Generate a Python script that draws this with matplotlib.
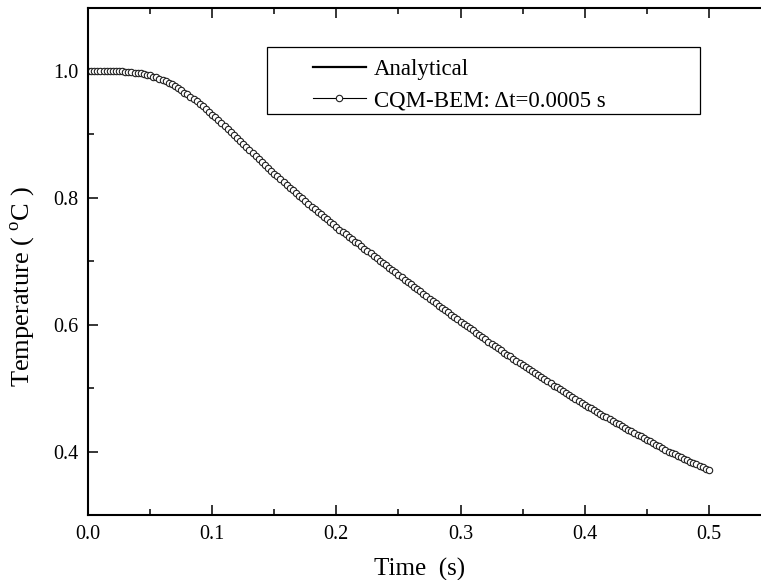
import numpy as np
import matplotlib
matplotlib.use("Agg")
import matplotlib.pyplot as plt
from matplotlib.patches import Rectangle
from matplotlib.ticker import MultipleLocator

plt.rcParams["font.family"] = ["Liberation Serif", "DejaVu Serif"]
plt.rcParams["mathtext.fontset"] = "custom"
plt.rcParams["mathtext.rm"] = "Liberation Serif"

# Analytical solution, read every 0.01 s
t_exact = np.linspace(0.0, 0.5, 51)
T_exact = [1.000, 1.000, 1.000, 0.999, 0.997, 0.993, 0.986, 0.976, 0.963, 0.948,
           0.931, 0.913, 0.894, 0.875, 0.856, 0.838, 0.820, 0.803, 0.786, 0.770,
           0.754, 0.739, 0.724, 0.709, 0.694, 0.679, 0.664, 0.649, 0.634, 0.620,
           0.605, 0.591, 0.577, 0.563, 0.550, 0.537, 0.524, 0.511, 0.498, 0.486,
           0.474, 0.462, 0.451, 0.440, 0.429, 0.419, 0.408, 0.398, 0.389, 0.380,
           0.371]

# CQM-BEM result, read every 0.0025 s
t_cqm = np.linspace(0.0, 0.5, 201)
T_cqm = [1.000, 1.000, 1.000, 1.000, 1.000, 1.000, 1.000, 1.000,
         1.000, 1.000, 0.9998, 0.9995, 0.999, 0.9985, 0.998, 0.9975,
         0.997, 0.996, 0.995, 0.994, 0.993, 0.991, 0.990, 0.988,
         0.986, 0.984, 0.981, 0.979, 0.976, 0.973, 0.970, 0.966,
         0.963, 0.959, 0.956, 0.952, 0.948, 0.944, 0.940, 0.935,
         0.931, 0.927, 0.922, 0.918, 0.913, 0.908, 0.903, 0.899,
         0.894, 0.889, 0.885, 0.880, 0.875, 0.870, 0.866, 0.861,
         0.856, 0.852, 0.847, 0.843, 0.838, 0.834, 0.829, 0.825,
         0.820, 0.816, 0.812, 0.807, 0.803, 0.799, 0.795, 0.790,
         0.786, 0.782, 0.778, 0.774, 0.770, 0.766, 0.762, 0.758,
         0.754, 0.750, 0.746, 0.743, 0.739, 0.735, 0.731, 0.728,
         0.724, 0.720, 0.716, 0.713, 0.709, 0.705, 0.701, 0.698,
         0.694, 0.690, 0.686, 0.683, 0.679, 0.675, 0.671, 0.668,
         0.664, 0.660, 0.656, 0.653, 0.649, 0.645, 0.641, 0.638,
         0.634, 0.630, 0.627, 0.623, 0.620, 0.616, 0.612, 0.609,
         0.605, 0.601, 0.598, 0.594, 0.591, 0.587, 0.584, 0.580,
         0.577, 0.573, 0.570, 0.566, 0.563, 0.560, 0.556, 0.553,
         0.550, 0.546, 0.543, 0.540, 0.537, 0.533, 0.530, 0.527,
         0.524, 0.521, 0.517, 0.514, 0.511, 0.508, 0.504, 0.501,
         0.498, 0.495, 0.492, 0.489, 0.486, 0.483, 0.480, 0.477,
         0.474, 0.471, 0.468, 0.465, 0.462, 0.459, 0.456, 0.454,
         0.451, 0.448, 0.445, 0.443, 0.440, 0.437, 0.434, 0.432,
         0.429, 0.426, 0.424, 0.421, 0.419, 0.416, 0.413, 0.411,
         0.408, 0.405, 0.403, 0.400, 0.398, 0.396, 0.393, 0.391,
         0.389, 0.386, 0.384, 0.382, 0.380, 0.377, 0.375, 0.373,
         0.371]

W, H = 761, 580
fig = plt.figure(figsize=(W / 100, H / 100), dpi=100)
# axes box in pixels: left 88, top 7.5, bottom 515; right edge runs past the image
ax = fig.add_axes([88 / W, 1 - 515 / H, 683 / W, (515 - 7.5) / H])

ax.plot(t_exact, T_exact, color="black", lw=1.6, label="Analytical")
ax.plot(t_cqm, T_cqm, color="black", lw=0.8, marker="o", ms=4.6,
        mfc="white", mec="#202020", mew=0.8, label="CQM-BEM: \u0394t=0.0005 s")

ax.set_xlim(0, 0.55)
ax.set_ylim(0.3, 1.1)
ax.xaxis.set_major_locator(MultipleLocator(0.1))
ax.xaxis.set_minor_locator(MultipleLocator(0.05))
ax.yaxis.set_major_locator(MultipleLocator(0.2))
ax.yaxis.set_minor_locator(MultipleLocator(0.1))
ax.xaxis.set_major_formatter(plt.FormatStrFormatter("%.1f"))
ax.yaxis.set_major_formatter(plt.FormatStrFormatter("%.1f"))

ax.tick_params(which="both", direction="in", top=True, right=False,
               width=1.1, labelsize=14.5)
ax.tick_params(which="major", length=7.5, pad=7)
ax.tick_params(which="minor", length=4.5)
for s in ax.spines.values():
    s.set_linewidth(1.5)

ax.set_xlabel("Time  (s)", fontsize=18)
ax.set_ylabel("Temperature ( $^{\\mathrm{o}}$C )", fontsize=19)
ax.xaxis.set_label_coords(0.486, -0.085)
ax.yaxis.set_label_coords(-0.0745, 0.45)

leg = ax.legend(loc="upper left", bbox_to_anchor=(313 / W, 1 - 59 / H),
                bbox_transform=fig.transFigure, frameon=False, fontsize=16.5,
                borderpad=0, handlelength=2.3, handletextpad=0.35,
                labelspacing=0.45, borderaxespad=0)
fig.add_artist(Rectangle((267 / W, 1 - 114 / H), 433 / W, 67 / H,
                         transform=fig.transFigure, fill=False,
                         edgecolor="black", lw=0.9))

fig.savefig("out.png", dpi=100)
